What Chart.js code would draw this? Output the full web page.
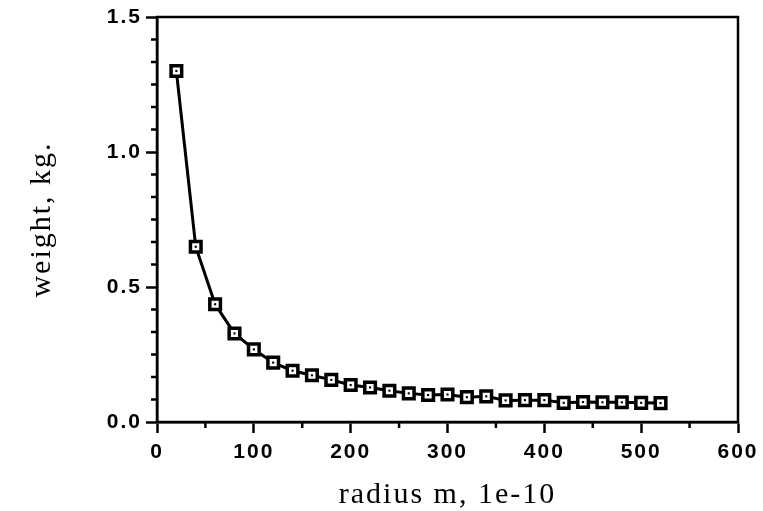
<!DOCTYPE html>
<html>
<head>
<meta charset="utf-8">
<script src="https://cdn.jsdelivr.net/npm/chart.js@4"></script>
<style>
  body { margin: 0; background: #fff; }
  #wrap { width: 763px; height: 511px; }
</style>
</head>
<body>
<div id="wrap"><canvas id="chart"></canvas></div>
<script>
// valores
const radiusValues = [20, 40, 60, 80, 100, 120, 140, 160, 180, 200, 220, 240, 260,
                      280, 300, 320, 340, 360, 380, 400, 420, 440, 460, 480, 500, 520];
const weightValues = [1.30, 0.649, 0.436, 0.328, 0.269, 0.220, 0.190, 0.173, 0.156, 0.137, 0.128, 0.116, 0.106,
                      0.100, 0.102, 0.092, 0.095, 0.080, 0.081, 0.081, 0.071, 0.074, 0.073, 0.073, 0.071, 0.070];
const xTitle = 'radius m, 1e-10';
const yTitle = 'weight, kg.';
const xMinorTicks = [50, 150, 250, 350, 450, 550];
const yMinorTicks = [1/12, 2/12, 3/12, 4/12, 5/12, 7/12, 8/12, 9/12, 10/12, 11/12, 13/12, 14/12, 15/12, 16/12, 17/12];

const points = radiusValues.map((r, i) => ({ x: r, y: weightValues[i] }));

// espaçamento das letras, como no original
const spacingPlugin = {
  id: 'spacing',
  beforeDraw(chart) {
    chart.ctx.letterSpacing = '2px';
  }
};

// moldura + ticks menores
const framePlugin = {
  id: 'frame',
  afterDraw(chart) {
    const { ctx, chartArea, scales } = chart;
    ctx.save();
    ctx.letterSpacing = '0px';
    ctx.strokeStyle = '#000';
    ctx.lineWidth = 2.5;
    ctx.strokeRect(chartArea.left, chartArea.top, chartArea.right - chartArea.left, chartArea.bottom - chartArea.top);
    ctx.beginPath();
    xMinorTicks.forEach(v => {
      const px = scales.x.getPixelForValue(v);
      ctx.moveTo(px, chartArea.bottom);
      ctx.lineTo(px, chartArea.bottom + 6);
    });
    yMinorTicks.forEach(v => {
      const py = scales.y.getPixelForValue(v);
      ctx.moveTo(chartArea.left - 6, py);
      ctx.lineTo(chartArea.left, py);
    });
    ctx.stroke();
    ctx.restore();
  }
};

const tickFont = { family: "'Liberation Sans', Arial, sans-serif", size: 21, weight: 'bold' };
const titleFont = { family: "'Liberation Serif', 'Times New Roman', serif", size: 30 };

new Chart(document.getElementById('chart'), {
  type: 'line',
  data: {
    datasets: [{
      // ponto central dos marcadores
      data: points,
      order: 0,
      showLine: false,
      pointStyle: 'rect',
      pointRadius: 1.5,
      pointBackgroundColor: '#000',
      pointBorderColor: '#000',
      pointBorderWidth: 0
    }, {
      data: points,
      order: 1,
      borderColor: '#000',
      borderWidth: 3,
      tension: 0,
      pointStyle: 'rect',
      pointRadius: 7.5,
      pointBackgroundColor: '#fff',
      pointBorderColor: '#000',
      pointBorderWidth: 3.5
    }]
  },
  options: {
    responsive: true,
    maintainAspectRatio: false,
    animation: false,
    layout: { padding: { top: 17, right: 25, left: 0, bottom: 0 } },
    plugins: { legend: { display: false }, tooltip: { enabled: false } },
    scales: {
      x: {
        type: 'linear',
        min: 0,
        max: 600,
        afterFit(scale) { scale.height = 89; },
        border: { color: '#000', width: 2.5 },
        grid: { drawOnChartArea: false, tickLength: 11, tickColor: '#000', tickWidth: 2.5 },
        ticks: { stepSize: 100, autoSkip: false, maxRotation: 0, color: '#000', font: tickFont, padding: 7 },
        title: { display: true, text: xTitle, color: '#000', font: titleFont, padding: { top: 0, bottom: -2 } }
      },
      y: {
        min: 0,
        max: 1.5,
        afterFit(scale) { scale.width = 157; },
        border: { color: '#000', width: 2.5 },
        grid: { drawOnChartArea: false, tickLength: 11, tickColor: '#000', tickWidth: 2.5 },
        ticks: {
          stepSize: 0.5, autoSkip: false, color: '#000', font: tickFont, padding: 4,
          callback: v => v.toFixed(1)
        },
        title: { display: true, text: yTitle, color: '#000', font: titleFont, padding: { top: 24, bottom: 0 } }
      }
    }
  },
  plugins: [spacingPlugin, framePlugin]
});
</script>
</body>
</html>
